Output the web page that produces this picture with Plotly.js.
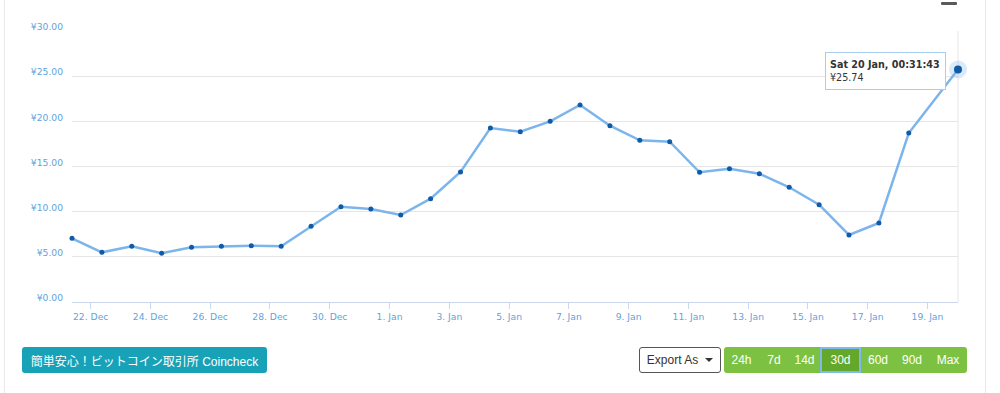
<!DOCTYPE html>
<html>
<head>
<meta charset="utf-8">
<script src="https://cdn.plot.ly/plotly-3.0.1.min.js"></script>
<style>
  html, body { margin: 0; padding: 0; background: #ffffff; }
  #wrap { position: relative; width: 1000px; height: 393px; overflow: hidden; background: #fff; }
  #chart { position: absolute; left: 0; top: 0; width: 1000px; height: 393px; }
  .vline { position: absolute; top: 0; width: 1px; height: 393px; background: #e9e9e9; }
  #minus { position: absolute; left: 941px; top: 2px; width: 16px; height: 3px; background: #5a5a5a; border-radius: 1px; }
  .btn { position: absolute; box-sizing: border-box; height: 26px; top: 347px; font-family: "Liberation Sans", "Noto Sans CJK JP", sans-serif; font-size: 12px; display: flex; align-items: center; justify-content: center; }
  #cc { left: 22px; width: 245px; background: #17a2b8; color: #fff; border-radius: 3px; }
  #export { left: 639px; width: 82px; background: #fff; color: #333; border: 1px solid #555; border-radius: 3px; }
  #export .caret { display: inline-block; width: 0; height: 0; margin-left: 7px; border-left: 4px solid transparent; border-right: 4px solid transparent; border-top: 4px solid #333; }
  #range { position: absolute; left: 724px; top: 347px; height: 26px; width: 243px; background: #7dc143; border-radius: 3px; display: flex; }
  #range div { box-sizing: border-box; height: 26px; display: flex; align-items: center; justify-content: center; color: #fff; font-family: "Liberation Sans", sans-serif; font-size: 12px; }
  #range div.active { background: #63a82b; border: 2px solid #80b9ec; }
</style>
</head>
<body>
<div id="wrap">
  <div id="chart"></div>
  <div class="vline" style="left:4px"></div>
  <div class="vline" style="left:985px"></div>
  <div id="minus"></div>
  <div class="btn" id="cc">簡単安心！ビットコイン取引所 Coincheck</div>
  <div class="btn" id="export">Export As<span class="caret"></span></div>
  <div id="range"></div>
</div>
<script>
// ---- data ----
var dates = [
  '2017-12-21 09:00', '2017-12-22 09:00', '2017-12-23 09:00', '2017-12-24 09:00',
  '2017-12-25 09:00', '2017-12-26 09:00', '2017-12-27 09:00', '2017-12-28 09:00',
  '2017-12-29 09:00', '2017-12-30 09:00', '2017-12-31 09:00', '2018-01-01 09:00',
  '2018-01-02 09:00', '2018-01-03 09:00', '2018-01-04 09:00', '2018-01-05 09:00',
  '2018-01-06 09:00', '2018-01-07 09:00', '2018-01-08 09:00', '2018-01-09 09:00',
  '2018-01-10 09:00', '2018-01-11 09:00', '2018-01-12 09:00', '2018-01-13 09:00',
  '2018-01-14 09:00', '2018-01-15 09:00', '2018-01-16 09:00', '2018-01-17 09:00',
  '2018-01-18 09:00', '2018-01-20 00:31:43'
];
var prices = [
  7.05, 5.50, 6.17, 5.39, 6.05, 6.17, 6.24, 6.17, 8.38, 10.55,
  10.30, 9.63, 11.44, 14.39, 19.26, 18.85, 20.00, 21.81, 19.52, 17.90,
  17.75, 14.36, 14.76, 14.20, 12.70, 10.77, 7.42, 8.75, 18.71, 25.74
];
var yTicks = [0, 5, 10, 15, 20, 25, 30];
var rangeButtons = ['24h', '7d', '14d', '30d', '60d', '90d', 'Max'];
var activeButton = '30d';
var currency = '¥';
var dayNames = ['Sun', 'Mon', 'Tue', 'Wed', 'Thu', 'Fri', 'Sat'];
var monthNames = ['Jan', 'Feb', 'Mar', 'Apr', 'May', 'Jun', 'Jul', 'Aug', 'Sep', 'Oct', 'Nov', 'Dec'];

// ---- range buttons ----
var btnWidths = [35, 30, 31, 41, 34, 34, 38];
var rangeEl = document.getElementById('range');
rangeButtons.forEach(function (b, i) {
  var d = document.createElement('div');
  d.textContent = b;
  d.style.width = btnWidths[i] + 'px';
  if (b === activeButton) d.className = 'active';
  rangeEl.appendChild(d);
});

// ---- tooltip text from last point ----
var n = dates.length - 1;
var lastDate = dates[n];
var parts = lastDate.split(' ');
var dp = parts[0].split('-').map(Number);
var dt = new Date(dp[0], dp[1] - 1, dp[2]);
var tipTitle = dayNames[dt.getDay()] + ' ' + dp[2] + ' ' + monthNames[dp[1] - 1] + ', ' + parts[1];
var tipValue = currency + prices[n].toFixed(2);

var lineColor = '#7cb5ec';
var markerColor = '#0f5ba7';
var labelColor = '#5fa3dd';
var fontFam = 'DejaVu Sans, Verdana, sans-serif';

var traces = [
  {
    x: dates, y: prices, type: 'scatter', mode: 'lines+markers',
    line: { color: lineColor, width: 2.5 },
    marker: { color: markerColor, size: 5 },
    cliponaxis: false,
    hoverinfo: 'skip'
  },
  {
    x: [dates[n]], y: [prices[n]], type: 'scatter', mode: 'markers',
    marker: { color: 'rgba(124,181,236,0.28)', size: 18, line: { width: 0 } },
    cliponaxis: false,
    hoverinfo: 'skip'
  },
  {
    x: [dates[n]], y: [prices[n]], type: 'scatter', mode: 'markers',
    marker: { color: markerColor, size: 8, line: { width: 0 } },
    cliponaxis: false,
    hoverinfo: 'skip'
  }
];

var layout = {
  width: 1000, height: 393,
  margin: { l: 72, r: 42, t: 31, b: 91, pad: 0 },
  paper_bgcolor: 'rgba(0,0,0,0)',
  plot_bgcolor: 'rgba(0,0,0,0)',
  showlegend: false,
  font: { family: fontFam, size: 9.2, color: labelColor },
  xaxis: {
    type: 'date',
    range: [dates[0], dates[n]],
    autorange: false,
    tick0: '2017-12-22', dtick: 2 * 86400000,
    tickformat: '%-d. %b',
    ticks: 'outside', ticklen: 6, tickcolor: '#ccd6eb', tickwidth: 1,
    showline: true, linecolor: '#ccd6eb', linewidth: 1,
    showgrid: false, zeroline: false,
    tickfont: { family: fontFam, size: 9.2, color: labelColor }
  },
  yaxis: {
    range: [0, 30], autorange: false,
    tickmode: 'array',
    tickvals: yTicks,
    ticktext: yTicks.map(function (v) { return currency + v.toFixed(2); }),
    showgrid: true, gridcolor: '#e6e6e6', gridwidth: 1,
    zeroline: false, showline: false, ticks: '',
    ticklabelstandoff: 8, ticklabelshift: -4,
    tickfont: { family: fontFam, size: 9.2, color: labelColor }
  },
  shapes: [
    { type: 'line', xref: 'paper', yref: 'paper', x0: 1, x1: 1, y0: 0, y1: 1,
      layer: 'below', line: { color: '#e6e6e6', width: 1 } }
  ],
  annotations: [
    {
      x: dates[n], y: prices[n], xref: 'x', yref: 'y',
      xanchor: 'right', yanchor: 'middle', xshift: -12, yshift: -1.5,
      showarrow: false,
      text: '<b>' + tipTitle + '</b><br>' + tipValue,
      align: 'left', valign: 'middle',
      width: 111, height: 28,
      bgcolor: 'rgba(255,255,255,0.96)', bordercolor: '#a9cdef', borderwidth: 1, borderpad: 4,
      font: { family: fontFam, size: 9.6, color: '#333333' }
    }
  ]
};

Plotly.newPlot('chart', traces, layout, { displayModeBar: false, staticPlot: true });
</script>
</body>
</html>
